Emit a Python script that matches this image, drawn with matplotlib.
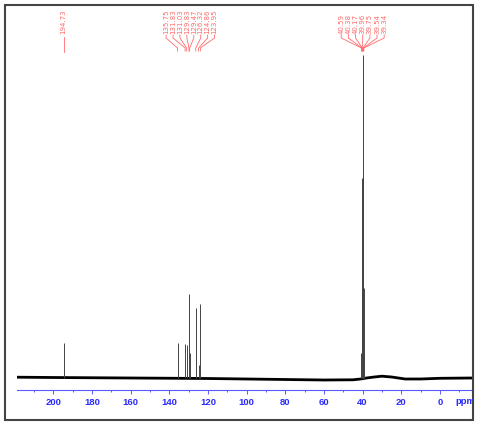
import numpy as np
import matplotlib
matplotlib.use("Agg")
import matplotlib.pyplot as plt
from matplotlib.patches import Rectangle
from matplotlib.transforms import Bbox, TransformedBbox

# peak positions (ppm) and heights (arbitrary units)
carbonyl_ppm = [194.73]
carbonyl_h = [35]

arom_ppm = [135.75, 131.83, 131.03, 129.83, 129.47, 126.32, 124.86, 123.95]
arom_h = [35, 34, 33, 84, 25, 70, 13, 74]

dmso_ppm = [40.59, 40.38, 40.17, 39.96, 39.75, 39.54, 39.34]
dmso_h = [25, 90, 200, 323, 200, 90, 25]

# baseline drift
base_ppm = [219, 200, 160, 120, 80, 60, 45, 41, 38, 34, 30, 25, 18, 10, 0, -17]
base_val = [0.8, 0.5, 0, -0.5, -1.5, -2, -1.8, -1, 0, 1, 1.8, 1, -1, -1, -0.3, 0]

tick_major = [200, 180, 160, 140, 120, 100, 80, 60, 40, 20, 0]

RED = "#ff6b6b"
BLUE = "#2a2aff"


def draw_labels(ax, ppms, spacing, ytop=343):
    n = len(ppms)
    center = np.mean(ppms)
    lab_x = [center + (n - 1) / 2 * spacing - i * spacing for i in range(n)]
    for lx, p in zip(lab_x, ppms):
        ax.text(lx, ytop + 1, f"{p:.2f}", rotation=90, ha="center", va="bottom",
                fontsize=5, color=RED, family="DejaVu Sans")
        ax.plot([lx, lx, p, p], [ytop, ytop - 3, ytop - 13, ytop - 16],
                color=RED, lw=0.6)


def main():
    fig = plt.figure(figsize=(4.8, 4.25), dpi=100)
    ax = fig.add_axes([17 / 480, 35 / 425, 456 / 480, 380 / 425])

    # baseline (thick to look like the noisy trace)
    ax.plot(base_ppm, base_val, color="black", lw=2.0, solid_capstyle="butt")

    for ppms, hs in [(carbonyl_ppm, carbonyl_h), (arom_ppm, arom_h), (dmso_ppm, dmso_h)]:
        ax.vlines(ppms, 0, hs, color="#444444", lw=0.7)

    # peak labels
    ax.text(carbonyl_ppm[0], 344, f"{carbonyl_ppm[0]:.2f}", rotation=90, ha="center",
            va="bottom", fontsize=5, color=RED, family="DejaVu Sans")
    ax.plot([carbonyl_ppm[0]] * 2, [341, 326], color=RED, lw=0.6)
    draw_labels(ax, arom_ppm, 3.58)
    draw_labels(ax, dmso_ppm, 3.7)

    ax.set_xlim(218.8, -17.1)
    ax.set_ylim(-12, 368)
    ax.set_xticks(tick_major)
    ax.set_xticks(np.arange(210, -11, -10), minor=True)
    ax.set_yticks([])
    for s in ["top", "left", "right"]:
        ax.spines[s].set_visible(False)
    ax.spines["bottom"].set_color("#5a5aff")
    ax.spines["bottom"].set_linewidth(0.8)
    ax.tick_params(axis="x", which="major", direction="out", length=3, width=0.7,
                   color="#5a5aff", labelcolor=BLUE, labelsize=6.8, pad=2.5)
    ax.tick_params(axis="x", which="minor", direction="out", length=1.5, width=0.7,
                   color="#5a5aff")
    for lbl in ax.get_xticklabels():
        lbl.set_fontweight("bold")
        lbl.set_family("Liberation Sans")

    t = fig.text(455 / 480, 1 - 402 / 425, "ppm", ha="left", va="center",
                 fontsize=6.8, fontweight="bold", color=BLUE, family="Liberation Sans")
    t.set_clip_box(TransformedBbox(Bbox([[0, 0], [473 / 480, 1]]), fig.transFigure))
    t.set_clip_on(True)

    fig.add_artist(Rectangle((5 / 480, 5 / 425), 468 / 480, 415 / 425,
                             transform=fig.transFigure, fill=False,
                             ec="#444444", lw=1.5))

    fig.savefig("out.png", dpi=100)


if __name__ == "__main__":
    main()
